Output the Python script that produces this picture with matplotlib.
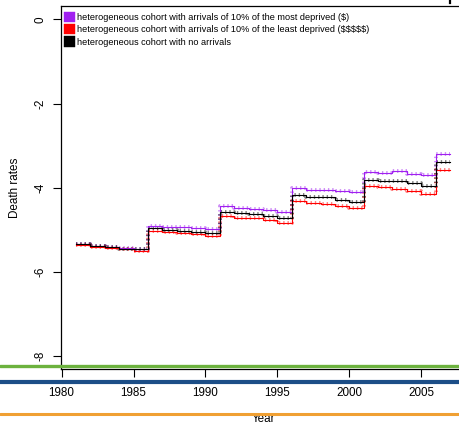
import numpy as np
import matplotlib
matplotlib.use("Agg")
import matplotlib.pyplot as plt
from matplotlib.patches import Patch
from matplotlib.lines import Line2D

plt.rcParams['font.family'] = ['Liberation Sans', 'DejaVu Sans']
plt.rcParams['axes.unicode_minus'] = False

# yearly death rates (log scale), step changes every year
years = np.arange(1981, 2008)
rates_most_deprived = [-5.34, -5.38, -5.40, -5.43, -5.45,
                       -4.91, -4.93, -4.94, -4.96, -4.98,
                       -4.44, -4.48, -4.50, -4.53, -4.57,
                       -4.01, -4.05, -4.05, -4.09, -4.10,
                       -3.63, -3.65, -3.61, -3.67, -3.71,
                       -3.19, -3.19]
rates_least_deprived = [-5.36, -5.40, -5.43, -5.47, -5.50,
                        -5.02, -5.05, -5.09, -5.11, -5.14,
                        -4.67, -4.71, -4.73, -4.78, -4.84,
                        -4.31, -4.37, -4.39, -4.44, -4.48,
                        -3.97, -3.99, -4.03, -4.09, -4.14,
                        -3.57, -3.57]
rates_no_arrivals = [-5.35, -5.39, -5.41, -5.45, -5.47,
                     -4.97, -5.01, -5.04, -5.06, -5.09,
                     -4.58, -4.61, -4.63, -4.67, -4.72,
                     -4.18, -4.23, -4.22, -4.29, -4.33,
                     -3.81, -3.83, -3.85, -3.89, -3.95,
                     -3.40, -3.40]

labels = ['heterogeneous cohort with arrivals of 10% of the most deprived ($)',
          'heterogeneous cohort with arrivals of 10% of the least deprived ($$$$$)',
          'heterogeneous cohort with no arrivals']
colors = ['#a020f0', '#ff0000', '#000000']
series = [rates_most_deprived, rates_least_deprived, rates_no_arrivals]

fig = plt.figure(figsize=(4.59, 4.23), dpi=100)
ax = fig.add_axes([61/459, 1-369.3/423, (465-61)/459, (369.3-6)/423])

for vals, col in zip(series, colors):
    ax.plot(years, vals, drawstyle='steps-post', color=col, lw=0.8, zorder=3)
    # little cross texture along the steps
    ax.plot(years, vals, drawstyle='steps-post', color=col, lw=2.8,
            ls=(0, (0.35, 0.75)), alpha=0.5, zorder=2)

ax.set_xlim(1979.96, 2008.04)
ax.set_ylim(-8.32, 0.32)
ax.set_xticks([1980, 1985, 1990, 1995, 2000, 2005])
ax.set_yticks([0, -2, -4, -6, -8])
ax.set_yticklabels(['0', '-2', '-4', '-6', '-8'], rotation=90, va='center')
ax.tick_params(direction='out', length=5.5, width=0.8, labelsize=8.4, pad=7)
ax.tick_params(axis='y', pad=5)
for s in ax.spines.values():
    s.set_linewidth(0.9)
ax.set_xlabel('Year', fontsize=8.4, labelpad=10)
ax.set_ylabel('Death rates', fontsize=8.4, labelpad=10)

handles = [Patch(facecolor=c, edgecolor=c, lw=0.3) for c in colors]
ax.legend(handles, labels, loc='upper left', frameon=False, fontsize=6.6,
          bbox_to_anchor=(64/459, 1-11.7/423), bbox_transform=fig.transFigure,
          borderpad=0, borderaxespad=0, handlelength=1.2, handleheight=1.36,
          handletextpad=0.25, labelspacing=0.22)

# strokes across the lower part of the figure
for yy, col, w in [(366, '#6cb23e', 2.4), (382, '#1c4e87', 3.0), (413.7, '#f0a033', 2.2)]:
    fig.add_artist(Line2D([0, 1], [1-yy/423, 1-yy/423], transform=fig.transFigure,
                          color=col, lw=w, solid_capstyle='round', zorder=10))
fig.add_artist(Line2D([450/459, 450/459], [1, 1-3/423], transform=fig.transFigure,
                      color='black', lw=1.6))

fig.savefig('out.png', dpi=100)
